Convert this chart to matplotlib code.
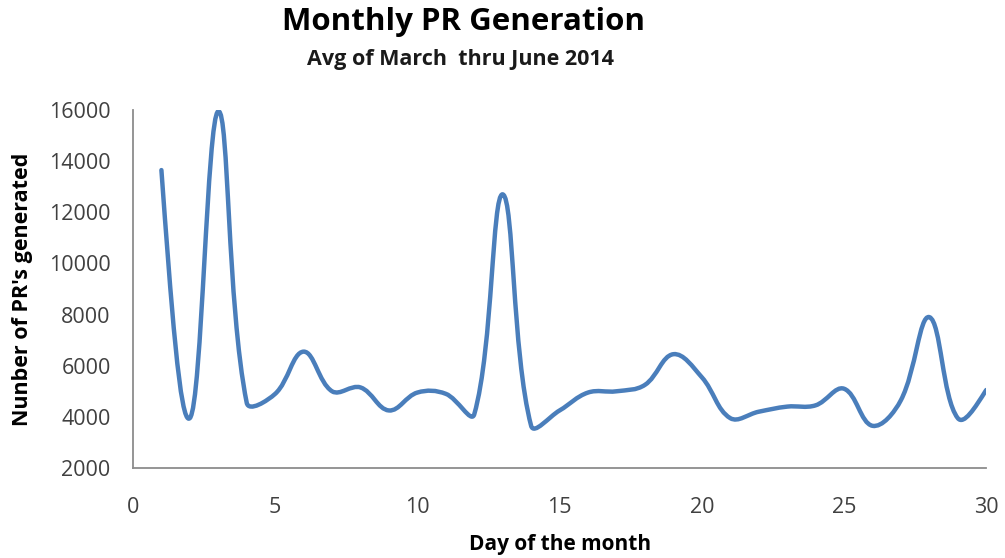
import numpy as np
import matplotlib.pyplot as plt
from matplotlib.path import Path
from matplotlib.patches import PathPatch

plt.rcParams['font.family'] = ['Open Sans', 'DejaVu Sans']

# Average PRs generated per day of month (Mar-Jun 2014)
days = np.arange(1, 31)
prs = [13650, 3950, 15950, 4550, 4900, 6550, 5000, 5150, 4250, 4950,
       4900, 4100, 12700, 3650, 4250, 4950, 5000, 5250, 6450, 5550,
       3950, 4200, 4400, 4450, 5100, 3650, 4650, 7900, 3950, 5050]

x_ticks = [0, 5, 10, 15, 20, 25, 30]
y_ticks = [2000, 4000, 6000, 8000, 10000, 12000, 14000, 16000]


def smooth_path(ax, xs, ys, t=0.38):
    # Excel-like smoothed line, control points worked out in pixel space
    tr = ax.transData
    pts = tr.transform(np.column_stack([xs, ys]))
    n = len(pts)
    before = pts.copy()
    after = pts.copy()
    for i in range(1, n - 1):
        d01 = np.hypot(*(pts[i] - pts[i - 1]))
        d12 = np.hypot(*(pts[i + 1] - pts[i]))
        tan = pts[i + 1] - pts[i - 1]
        before[i] = pts[i] - t * d01 / (d01 + d12) * tan
        after[i] = pts[i] + t * d12 / (d01 + d12) * tan
    after[0] = pts[0] + (before[1] - pts[0]) * 0.5
    before[-1] = pts[-1] + (after[-2] - pts[-1]) * 0.5
    verts = [pts[0]]
    codes = [Path.MOVETO]
    for i in range(n - 1):
        verts += [after[i], before[i + 1], pts[i + 1]]
        codes += [Path.CURVE4] * 3
    verts = tr.inverted().transform(np.array(verts))
    return Path(verts, codes)


fig = plt.figure(figsize=(10.05, 5.58), dpi=100)
ax = fig.add_axes([0.1323, 0.1613, 0.849, 0.6416])
ax.set_xlim(0, 30)
ax.set_ylim(2000, 16000)

patch = PathPatch(smooth_path(ax, days, prs), facecolor='none',
                  edgecolor='#4a7ebb', lw=3.2, capstyle='round',
                  joinstyle='round')
ax.add_patch(patch)

ax.set_xticks(x_ticks)
ax.set_yticks(y_ticks)
ax.tick_params(length=0, labelsize=15.5, colors='#404040')
ax.tick_params(axis='x', pad=21)
ax.tick_params(axis='y', pad=16)

for side in ['top', 'right']:
    ax.spines[side].set_visible(False)
for side in ['left', 'bottom']:
    ax.spines[side].set_color('#8c8c8c')
    ax.spines[side].set_linewidth(1.3)

ax.set_xlabel('Day of the month', fontsize=15, fontweight='bold',
              va='center')
ax.xaxis.set_label_coords(0.5, -0.215)
ax.set_ylabel("Nunber of PR's generated", fontsize=15.5, fontweight='bold',
              va='center')
ax.yaxis.set_label_coords(-0.13, 0.5)

fig.text(0.461, 0.9606, 'Monthly PR Generation', fontsize=22.5,
         fontweight='bold', ha='center', va='center')
fig.text(0.458, 0.8925, 'Avg of March  thru June 2014', fontsize=15.5,
         fontweight='bold', ha='center', va='center', color='#1a1a1a')

plt.savefig('out.png', dpi=100)
